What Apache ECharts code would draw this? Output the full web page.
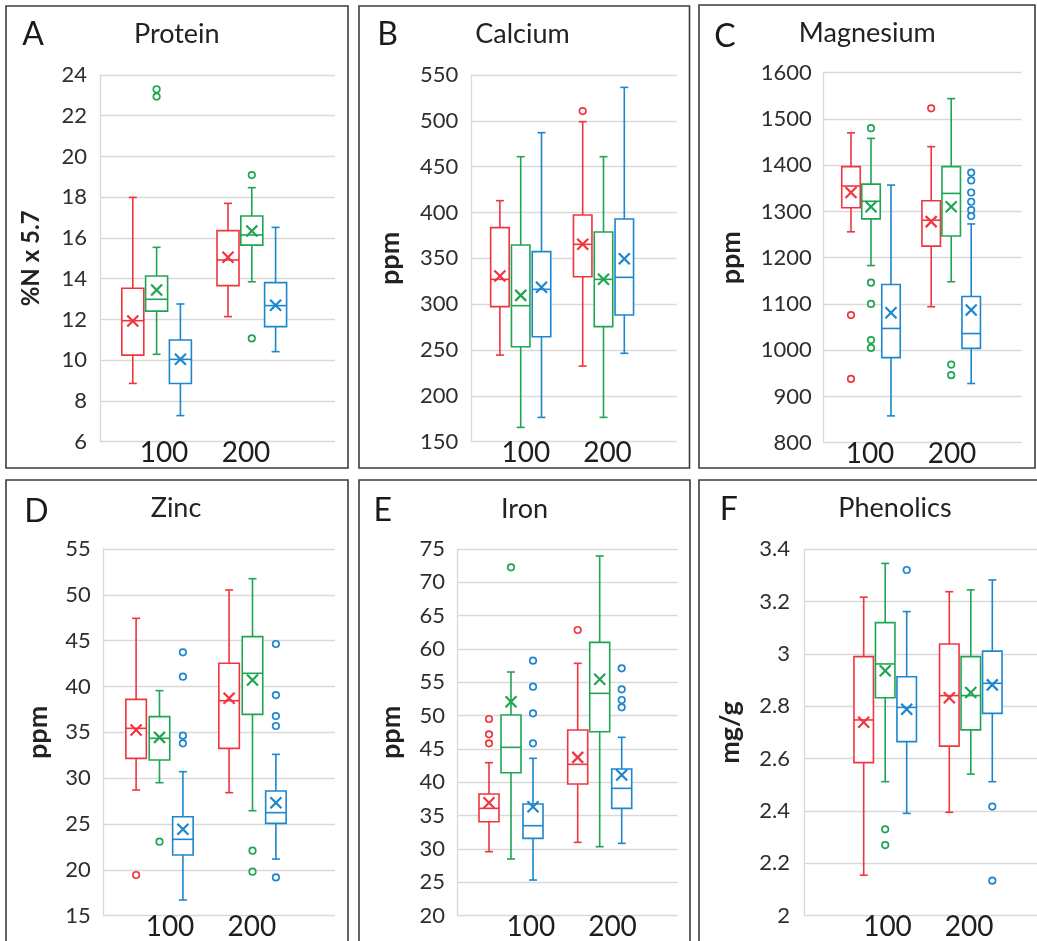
<!DOCTYPE html>
<html>
<head>
<meta charset="utf-8">
<script src="https://cdn.jsdelivr.net/npm/echarts@6.0.0/dist/echarts.min.js"></script>
<style>
html,body{margin:0;padding:0;background:#fff;}
#chart{width:1037px;height:941px;}
</style>
</head>
<body>
<div id="chart"></div>
<script>
// ---------------- DATA ----------------
const categories = ['100', '200'];
// each box row: [min, Q1, median, Q3, max]; series order: red, green, blue

// A Protein
const proteinAxis = [6, 24, 2];
const proteinBox = [
  [[8.86, 10.25, 11.94, 13.53, 17.99], [12.14, 13.66, 14.92, 16.36, 17.70]],
  [[10.29, 12.41, 12.99, 14.13, 15.54], [13.85, 15.65, 16.15, 17.08, 18.47]],
  [[7.28, 8.86, 10.04, 10.99, 12.76], [10.42, 11.65, 12.68, 13.81, 16.52]]
];
const proteinMean = [[11.92, 15.05], [13.45, 16.34], [10.05, 12.70]];
const proteinOutliers = [[[], []], [[23.30, 22.94], [19.09, 11.07]], [[], []]];

// B Calcium
const calciumAxis = [150, 550, 50];
const calciumBox = [
  [[244.5, 297.3, 327.1, 383.5, 412.9], [232.5, 330.0, 365.3, 397.3, 499.1]],
  [[165.6, 253.6, 298.4, 364.5, 460.9], [176.5, 275.5, 327.1, 378.7, 460.9]],
  [[176.5, 264.5, 316.2, 357.3, 487.1], [246.4, 288.2, 329.3, 392.9, 536.5]]
];
const calciumMean = [[330.7, 365.3], [309.6, 327.1], [318.4, 349.6]];
const calciumOutliers = [[[], [510.7]], [[], []], [[], []]];

// C Magnesium
const magnesiumAxis = [800, 1600, 100];
const magnesiumBox = [
  [[1256, 1308, 1355, 1397, 1470], [1094, 1225, 1281, 1323, 1440]],
  [[1183, 1284, 1322, 1359, 1458], [1148, 1247, 1339, 1397, 1544]],
  [[858, 984, 1047, 1142, 1357], [928, 1004, 1036, 1116, 1273]]
];
const magnesiumMean = [[1341, 1278], [1310, 1310], [1081, 1087]];
const magnesiumOutliers = [
  [[1076, 938], [1523]],
  [[1480, 1146, 1100, 1022, 1005], [969, 946]],
  [[], [1384, 1367, 1341, 1321, 1303, 1290]]
];

// D Zinc
const zincAxis = [15, 55, 5];
const zincBox = [
  [[28.71, 32.16, 35.44, 38.60, 47.44], [28.42, 33.25, 38.45, 42.53, 50.53]],
  [[29.51, 31.98, 34.35, 36.71, 39.55], [26.45, 36.96, 41.44, 45.44, 51.76]],
  [[16.71, 21.62, 23.33, 25.80, 30.71], [21.18, 25.07, 26.24, 28.60, 32.60]]
];
const zincMean = [[35.25, 38.71], [34.45, 40.71], [24.42, 27.33]];
const zincOutliers = [
  [[19.44], []],
  [[23.07], [22.09, 19.80]],
  [[43.73, 41.07, 34.64, 33.80], [44.64, 39.07, 36.78, 35.69, 19.18]]
];

// E Iron
const ironAxis = [20, 75, 5];
const ironBox = [
  [[29.60, 34.10, 36.10, 38.25, 42.95], [31.00, 39.75, 42.70, 47.85, 57.85]],
  [[28.50, 41.45, 45.25, 50.10, 56.55], [30.35, 47.60, 53.35, 61.00, 73.95]],
  [[25.35, 31.60, 33.50, 36.75, 43.60], [30.85, 36.10, 39.10, 42.00, 46.75]]
];
const ironMean = [[36.95, 43.75], [52.10, 55.45], [36.35, 41.10]];
const ironOutliers = [
  [[49.50, 47.20, 45.85], [62.85]],
  [[72.25], []],
  [[58.25, 54.35, 50.35, 45.85], [57.10, 53.95, 52.35, 51.25]]
];

// F Phenolics
const phenolicsAxis = [2, 3.4, 0.2];
const phenolicsBox = [
  [[2.155, 2.585, 2.748, 2.990, 3.217], [2.395, 2.648, 2.841, 3.038, 3.238]],
  [[2.512, 2.833, 2.962, 3.120, 3.346], [2.541, 2.710, 2.841, 2.990, 3.245]],
  [[2.391, 2.665, 2.796, 2.913, 3.162], [2.512, 2.773, 2.888, 3.011, 3.283]]
];
const phenolicsMean = [[2.739, 2.833], [2.936, 2.853], [2.789, 2.882]];
const phenolicsOutliers = [[[], []], [[2.330, 2.270], []], [[3.321], [2.417, 2.134]]];

// ---------------- STYLE / LAYOUT ----------------
const colors = ['#F2343F', '#1FA552', '#1C86CF'];
const FONT = 'Lato';

const layouts = {
  A: {border: [6, 6, 348, 468], axisX: 100, right: 335, top: 75, bottom: 441.7, c1: 156.6, c2: 251.8, sp: 23.8, bw: 22, lab1: 164, lab2: 246, tickRight: 87, nameX: 31.7, nameSize: 24, titleX: 176.8, titleY: 34, letterX: 33, letterY: 35},
  B: {border: [359, 6, 689.5, 468], axisX: 471.7, right: 676.7, top: 75, bottom: 441.7, c1: 520.7, c2: 603.5, sp: 20.8, bw: 18.5, lab1: 525.8, lab2: 607.5, tickRight: 458.3, nameX: 390, nameSize: 27, titleX: 522.5, titleY: 34, letterX: 387.5, letterY: 35},
  C: {border: [699, 5, 1035, 468], axisX: 823.3, right: 1021.7, top: 72.7, bottom: 442.7, c1: 871, c2: 951.2, sp: 20, bw: 18.5, lab1: 870, lab2: 952, tickRight: 811.7, nameX: 731.7, nameSize: 27, titleX: 867.3, titleY: 33, letterX: 725, letterY: 37},
  D: {border: [6, 480, 348, 980], axisX: 103.3, right: 335, top: 549, bottom: 915.7, c1: 159.5, c2: 252.5, sp: 23.4, bw: 20.5, lab1: 170, lab2: 251.8, tickRight: 90.7, nameX: 38.3, nameSize: 27, titleX: 176, titleY: 508.3, letterX: 36.3, letterY: 512},
  E: {border: [359, 480, 690, 980], axisX: 457.7, right: 677.7, top: 549, bottom: 915.7, c1: 511, c2: 599.7, sp: 22, bw: 20, lab1: 530.8, lab2: 612.5, tickRight: 445, nameX: 391.7, nameSize: 27, titleX: 524.5, titleY: 509, letterX: 382.8, letterY: 511},
  F: {border: [699, 480, 1080, 980], axisX: 804, right: 1062, top: 549.3, bottom: 915.7, c1: 885.2, c2: 970.8, sp: 21.5, bw: 19.5, lab1: 887.5, lab2: 969.2, tickRight: 790, nameX: 730, nameSize: 27, titleX: 895, titleY: 508.3, letterX: 728.8, letterY: 509.3}
};

const panels = [
  {letter: 'A', title: 'Protein', yName: '%N x 5.7', axis: proteinAxis, box: proteinBox, mean: proteinMean, out: proteinOutliers},
  {letter: 'B', title: 'Calcium', yName: 'ppm', axis: calciumAxis, box: calciumBox, mean: calciumMean, out: calciumOutliers},
  {letter: 'C', title: 'Magnesium', yName: 'ppm', axis: magnesiumAxis, box: magnesiumBox, mean: magnesiumMean, out: magnesiumOutliers},
  {letter: 'D', title: 'Zinc', yName: 'ppm', axis: zincAxis, box: zincBox, mean: zincMean, out: zincOutliers},
  {letter: 'E', title: 'Iron', yName: 'ppm', axis: ironAxis, box: ironBox, mean: ironMean, out: ironOutliers},
  {letter: 'F', title: 'Phenolics', yName: 'mg/g', axis: phenolicsAxis, box: phenolicsBox, mean: phenolicsMean, out: phenolicsOutliers}
];

const option = {
  animation: false,
  backgroundColor: '#fff',
  grid: [], xAxis: [], yAxis: [], series: [], graphic: []
};

function boxRenderer(offset, bw, color) {
  const capW = 8, lw = 1.6, mx = 5.5;
  return function (params, api) {
    const ci = api.value(0);
    const pMin = api.coord([ci, api.value(1)]);
    const pQ1 = api.coord([ci, api.value(2)]);
    const pMed = api.coord([ci, api.value(3)]);
    const pQ3 = api.coord([ci, api.value(4)]);
    const pMax = api.coord([ci, api.value(5)]);
    const pMean = api.coord([ci, api.value(6)]);
    const x = pMin[0] + offset;
    const line = (x1, y1, x2, y2, w) => ({type: 'line', shape: {x1, y1, x2, y2}, style: {stroke: color, lineWidth: w || lw}});
    return {
      type: 'group',
      children: [
        line(x, pQ3[1], x, pMax[1]),
        line(x, pQ1[1], x, pMin[1]),
        line(x - capW / 2, pMax[1], x + capW / 2, pMax[1]),
        line(x - capW / 2, pMin[1], x + capW / 2, pMin[1]),
        {type: 'rect', shape: {x: x - bw / 2, y: pQ3[1], width: bw, height: pQ1[1] - pQ3[1]}, style: {stroke: color, lineWidth: lw, fill: '#fff'}},
        line(x - bw / 2, pMed[1], x + bw / 2, pMed[1]),
        line(x - mx, pMean[1] - mx, x + mx, pMean[1] + mx, 2.2),
        line(x - mx, pMean[1] + mx, x + mx, pMean[1] - mx, 2.2)
      ]
    };
  };
}

panels.forEach(function (p) {
  const L = layouts[p.letter];
  const g0 = option.grid.length;
  const h = L.bottom - L.top;
  const d = L.c2 - L.c1;
  const dl = L.lab2 - L.lab1;
  option.grid.push({left: L.axisX, top: L.top, width: L.right - L.axisX, height: h, outerBoundsMode: 'none', containLabel: false});
  option.grid.push({left: L.c1 - d / 2, top: L.top, width: 2 * d, height: h, outerBoundsMode: 'none', containLabel: false});
  option.grid.push({left: L.lab1 - dl / 2, top: L.top, width: 2 * dl, height: h, outerBoundsMode: 'none', containLabel: false});

  const [mn, mxv, iv] = p.axis;
  option.xAxis.push({gridIndex: g0, type: 'value', min: 0, max: 1, show: false});
  option.yAxis.push({
    gridIndex: g0, type: 'value', min: mn, max: mxv, interval: iv,
    axisLine: {show: true, lineStyle: {color: '#d9d9d9', width: 1.3}},
    axisTick: {show: false},
    splitLine: {show: true, lineStyle: {color: '#d9d9d9', width: 1.3}},
    axisLabel: {
      fontFamily: FONT, fontSize: 22, color: '#2e2e2e', margin: L.axisX - L.tickRight,
      formatter: v => String(+(+v).toFixed(6))
    },
    name: p.yName, nameLocation: 'middle', nameRotate: 90,
    nameGap: L.axisX - L.nameX - L.nameSize / 2,
    nameTextStyle: {fontFamily: FONT, fontSize: L.nameSize, fontWeight: 'bold', color: '#222'}
  });
  option.xAxis.push({gridIndex: g0 + 1, type: 'category', data: categories, boundaryGap: true,
    axisLine: {show: false}, axisTick: {show: false}, axisLabel: {show: false}, splitLine: {show: false}});
  option.yAxis.push({gridIndex: g0 + 1, type: 'value', min: mn, max: mxv, interval: iv, show: false, splitLine: {show: false}});
  option.xAxis.push({gridIndex: g0 + 2, type: 'category', data: categories, boundaryGap: true,
    axisLine: {show: false}, axisTick: {show: false}, splitLine: {show: false},
    axisLabel: {fontFamily: FONT, fontSize: 28, color: '#1e1e1e', margin: -3, interval: 0}});
  option.yAxis.push({gridIndex: g0 + 2, type: 'value', min: mn, max: mxv, interval: iv, show: false, splitLine: {show: false}});

  for (let s = 0; s < 3; s++) {
    const offset = (s - 1) * L.sp;
    const data = categories.map((c, ci) => [c].concat(p.box[s][ci], [p.mean[s][ci]]));
    option.series.push({
      type: 'custom', xAxisIndex: g0 + 1, yAxisIndex: g0 + 1,
      renderItem: boxRenderer(offset, L.bw, colors[s]),
      data: data, clip: false, silent: true, z: 2,
      encode: {x: 0, y: [1, 2, 3, 4, 5, 6]}
    });
    const outData = [];
    categories.forEach((c, ci) => p.out[s][ci].forEach(v => outData.push([c, v])));
    if (outData.length) {
      option.series.push({
        type: 'scatter', xAxisIndex: g0 + 1, yAxisIndex: g0 + 1,
        data: outData, symbol: 'circle', symbolSize: 6.5,
        symbolOffset: [offset, 0], silent: true, z: 3,
        itemStyle: {color: '#fff', borderColor: colors[s], borderWidth: 1.7, opacity: 1}
      });
    }
  }

  const b = L.border;
  option.graphic.push({type: 'rect', shape: {x: b[0], y: b[1], width: b[2] - b[0], height: b[3] - b[1]},
    style: {fill: null, stroke: '#3c3c3c', lineWidth: 1.6}, silent: true, z: 10});
  option.graphic.push({type: 'text', x: L.letterX, y: L.letterY,
    style: {text: p.letter, fontFamily: FONT, fontSize: 32, fill: '#1a1a1a', align: 'center', verticalAlign: 'middle'}, z: 10});
  option.graphic.push({type: 'text', x: L.titleX, y: L.titleY,
    style: {text: p.title, fontFamily: FONT, fontSize: 27, fill: '#222', align: 'center', verticalAlign: 'middle'}, z: 10});
});

const chart = echarts.init(document.getElementById('chart'), null, {renderer: 'canvas', width: 1037, height: 941});
chart.setOption(option);
</script>
</body>
</html>
